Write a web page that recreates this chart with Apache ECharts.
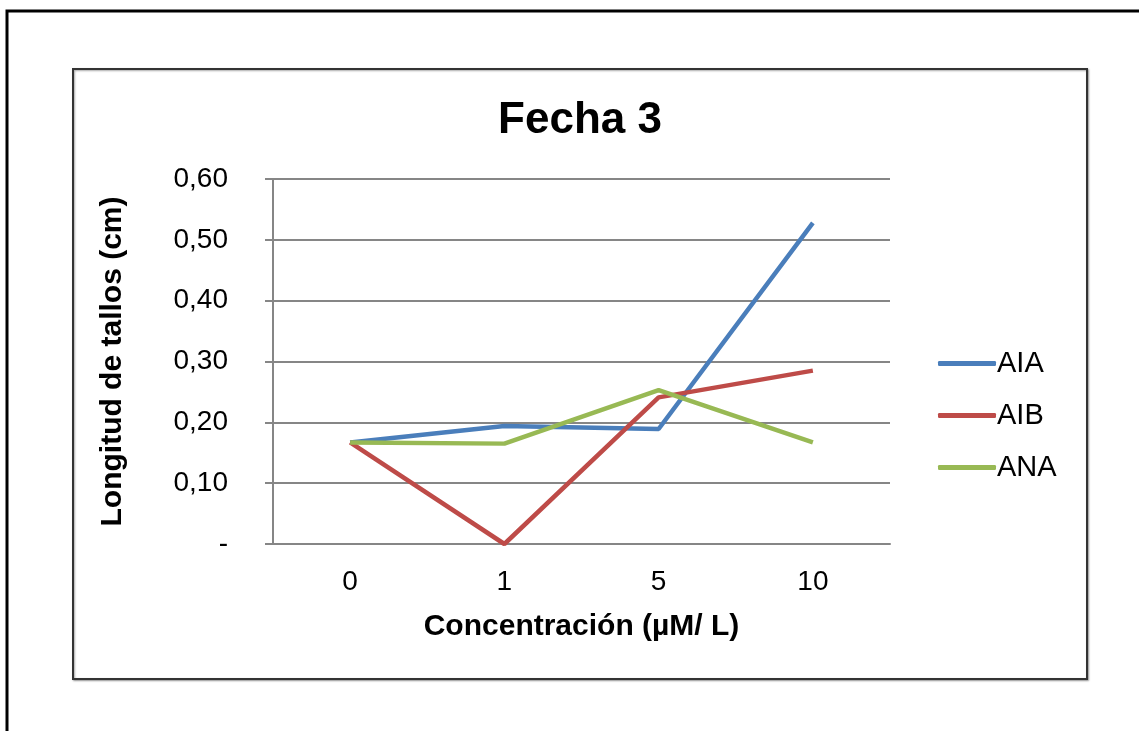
<!DOCTYPE html>
<html><head><meta charset="utf-8">
<script src="https://cdn.jsdelivr.net/npm/echarts@6/dist/echarts.min.js"></script>
<style>html,body{margin:0;padding:0;background:#fff}#c{width:1139px;height:731px}</style>
</head><body><div id="c"></div>
<script>
const categories = ['0', '1', '5', '10'];
const aia = [0.167, 0.194, 0.189, 0.528];
const aib = [0.167, 0.0, 0.241, 0.285];
const ana = [0.167, 0.165, 0.253, 0.167];
const seriesNames = ['AIA', 'AIB', 'ANA'];
const yTicks = [0, 0.1, 0.2, 0.3, 0.4, 0.5, 0.6];

const font = '"Liberation Sans", Arial, sans-serif';
const chart = echarts.init(document.getElementById('c'));
const colors = ['#4a7ebb', '#be4b48', '#98b954'];
const data = [aia, aib, ana];

chart.setOption({
  animation: false,
  graphic: [
    { type: 'polyline', shape: { points: [[7, 731], [7, 11], [1139, 11]] }, style: { stroke: '#000', lineWidth: 3, fill: null } },
    { type: 'rect', shape: { x: 73, y: 69, width: 1014, height: 610 }, style: { stroke: '#333', lineWidth: 2, fill: '#fff', shadowColor: 'rgba(0,0,0,0.35)', shadowBlur: 2, shadowOffsetX: 1, shadowOffsetY: 1 }, z: -10 }
  ],
  title: {
    text: 'Fecha 3', left: 575, top: 94, textAlign: 'center',
    textStyle: { fontFamily: font, fontSize: 44, fontWeight: 'bold', color: '#000' }
  },
  legend: {
    orient: 'vertical', left: 933, top: 344, itemWidth: 58, itemHeight: 5, itemGap: 23,
    icon: 'roundRect',
    textStyle: { fontFamily: font, fontSize: 29, color: '#000', padding: [0, 0, 0, -4] },
    data: seriesNames
  },
  grid: { left: 273, right: 249, top: 179, bottom: 187, containLabel: false },
  xAxis: {
    type: 'category', data: categories, boundaryGap: true,
    name: 'Concentración (µM/ L)', nameLocation: 'middle', nameGap: 68,
    nameTextStyle: { fontFamily: font, fontSize: 30, fontWeight: 'bold', color: '#000' },
    axisLine: { lineStyle: { color: '#868686', width: 2 } },
    axisTick: { show: false },
    axisLabel: { fontFamily: font, fontSize: 28, color: '#000', margin: 24 }
  },
  yAxis: {
    type: 'value', min: 0, max: 0.6, interval: 0.1,
    name: 'Longitud de tallos (cm)', nameLocation: 'middle', nameGap: 145,
    nameTextStyle: { fontFamily: font, fontSize: 30, fontWeight: 'bold', color: '#000' },
    axisLine: { show: true, lineStyle: { color: '#868686', width: 2 } },
    axisTick: { show: true, length: 8, lineStyle: { color: '#868686', width: 2 } },
    splitLine: { lineStyle: { color: '#868686', width: 2 } },
    axisLabel: {
      fontFamily: font, fontSize: 28, color: '#000', margin: 45,
      formatter: v => {
        const t = yTicks.find(x => Math.abs(x - v) < 1e-9);
        if (t === 0) return '-';
        return v.toFixed(2).replace('.', ',');
      }
    }
  },
  series: data.map((d, i) => ({
    name: seriesNames[i], type: 'line', data: d, symbol: 'none',
    lineStyle: { color: colors[i], width: 4.5 }, itemStyle: { color: colors[i] }
  }))
});
</script></body></html>
